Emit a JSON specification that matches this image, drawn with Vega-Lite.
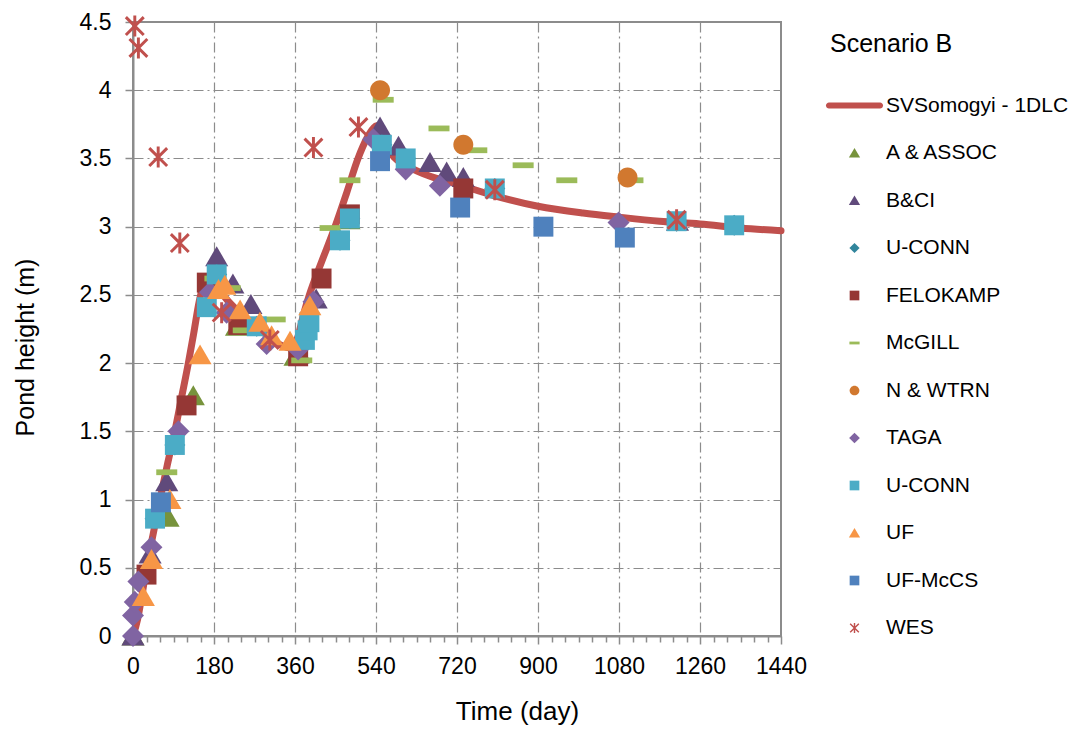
{
  "$schema": "https://vega.github.io/schema/vega-lite/v6.json",
  "width": 648,
  "height": 614,
  "autosize": "none",
  "padding": {"left": 133, "top": 22, "right": 292, "bottom": 95},
  "config": {
    "font": "Liberation Sans",
    "view": {"stroke": "#8c8c8c", "strokeWidth": 2}
  },
  "datasets": {
    "model": [
      {"series": "SVSomogyi - 1DLC", "day": 0, "h": 0},
      {"series": "SVSomogyi - 1DLC", "day": 10, "h": 0.12},
      {"series": "SVSomogyi - 1DLC", "day": 20, "h": 0.3},
      {"series": "SVSomogyi - 1DLC", "day": 30, "h": 0.5},
      {"series": "SVSomogyi - 1DLC", "day": 45, "h": 0.75},
      {"series": "SVSomogyi - 1DLC", "day": 60, "h": 1.0},
      {"series": "SVSomogyi - 1DLC", "day": 76, "h": 1.25},
      {"series": "SVSomogyi - 1DLC", "day": 93, "h": 1.5},
      {"series": "SVSomogyi - 1DLC", "day": 108, "h": 1.75},
      {"series": "SVSomogyi - 1DLC", "day": 123, "h": 2.0},
      {"series": "SVSomogyi - 1DLC", "day": 135, "h": 2.22},
      {"series": "SVSomogyi - 1DLC", "day": 147, "h": 2.45},
      {"series": "SVSomogyi - 1DLC", "day": 157, "h": 2.58},
      {"series": "SVSomogyi - 1DLC", "day": 166, "h": 2.62},
      {"series": "SVSomogyi - 1DLC", "day": 176, "h": 2.6},
      {"series": "SVSomogyi - 1DLC", "day": 190, "h": 2.54},
      {"series": "SVSomogyi - 1DLC", "day": 210, "h": 2.46},
      {"series": "SVSomogyi - 1DLC", "day": 240, "h": 2.36},
      {"series": "SVSomogyi - 1DLC", "day": 270, "h": 2.27},
      {"series": "SVSomogyi - 1DLC", "day": 300, "h": 2.2},
      {"series": "SVSomogyi - 1DLC", "day": 330, "h": 2.13},
      {"series": "SVSomogyi - 1DLC", "day": 350, "h": 2.11},
      {"series": "SVSomogyi - 1DLC", "day": 365, "h": 2.18},
      {"series": "SVSomogyi - 1DLC", "day": 380, "h": 2.37},
      {"series": "SVSomogyi - 1DLC", "day": 392, "h": 2.5},
      {"series": "SVSomogyi - 1DLC", "day": 420, "h": 2.75},
      {"series": "SVSomogyi - 1DLC", "day": 449, "h": 3.0},
      {"series": "SVSomogyi - 1DLC", "day": 475, "h": 3.25},
      {"series": "SVSomogyi - 1DLC", "day": 500, "h": 3.5},
      {"series": "SVSomogyi - 1DLC", "day": 520, "h": 3.65},
      {"series": "SVSomogyi - 1DLC", "day": 534, "h": 3.72},
      {"series": "SVSomogyi - 1DLC", "day": 541, "h": 3.74},
      {"series": "SVSomogyi - 1DLC", "day": 550, "h": 3.68},
      {"series": "SVSomogyi - 1DLC", "day": 565, "h": 3.58},
      {"series": "SVSomogyi - 1DLC", "day": 580, "h": 3.51},
      {"series": "SVSomogyi - 1DLC", "day": 600, "h": 3.46},
      {"series": "SVSomogyi - 1DLC", "day": 630, "h": 3.41},
      {"series": "SVSomogyi - 1DLC", "day": 660, "h": 3.37},
      {"series": "SVSomogyi - 1DLC", "day": 722, "h": 3.31},
      {"series": "SVSomogyi - 1DLC", "day": 800, "h": 3.23},
      {"series": "SVSomogyi - 1DLC", "day": 900, "h": 3.15},
      {"series": "SVSomogyi - 1DLC", "day": 1000, "h": 3.1},
      {"series": "SVSomogyi - 1DLC", "day": 1080, "h": 3.07},
      {"series": "SVSomogyi - 1DLC", "day": 1170, "h": 3.04},
      {"series": "SVSomogyi - 1DLC", "day": 1260, "h": 3.02},
      {"series": "SVSomogyi - 1DLC", "day": 1350, "h": 2.99},
      {"series": "SVSomogyi - 1DLC", "day": 1440, "h": 2.97}
    ],
    "obs": [
      {"series": "A & ASSOC", "day": 0, "h": 0},
      {"series": "A & ASSOC", "day": 78, "h": 0.87},
      {"series": "A & ASSOC", "day": 134, "h": 1.76},
      {"series": "A & ASSOC", "day": 230, "h": 2.27},
      {"series": "A & ASSOC", "day": 360, "h": 2.05},
      {"series": "A & ASSOC", "day": 480, "h": 3.05},
      {"series": "B&CI", "day": 0, "h": 0},
      {"series": "B&CI", "day": 38, "h": 0.6},
      {"series": "B&CI", "day": 75, "h": 1.13},
      {"series": "B&CI", "day": 186, "h": 2.78},
      {"series": "B&CI", "day": 222, "h": 2.58},
      {"series": "B&CI", "day": 262, "h": 2.43},
      {"series": "B&CI", "day": 371, "h": 2.07},
      {"series": "B&CI", "day": 407, "h": 2.47},
      {"series": "B&CI", "day": 549, "h": 3.73},
      {"series": "B&CI", "day": 590, "h": 3.59},
      {"series": "B&CI", "day": 660, "h": 3.47},
      {"series": "B&CI", "day": 697, "h": 3.4},
      {"series": "B&CI", "day": 734, "h": 3.36},
      {"series": "B&CI", "day": 1210, "h": 3.04},
      {"series": "U-CONN", "day": 49, "h": 0.86},
      {"series": "U-CONN", "day": 93, "h": 1.4},
      {"series": "U-CONN", "day": 186, "h": 2.65},
      {"series": "U-CONN", "day": 275, "h": 2.27},
      {"series": "U-CONN", "day": 390, "h": 2.29},
      {"series": "U-CONN", "day": 460, "h": 2.9},
      {"series": "U-CONN", "day": 482, "h": 3.06},
      {"series": "U-CONN", "day": 553, "h": 3.6},
      {"series": "U-CONN", "day": 606, "h": 3.5},
      {"series": "U-CONN", "day": 804, "h": 3.28},
      {"series": "U-CONN", "day": 1208, "h": 3.04},
      {"series": "U-CONN", "day": 1336, "h": 3.01},
      {"series": "FELOKAMP", "day": 30, "h": 0.45},
      {"series": "FELOKAMP", "day": 119, "h": 1.69},
      {"series": "FELOKAMP", "day": 164, "h": 2.59},
      {"series": "FELOKAMP", "day": 234, "h": 2.28},
      {"series": "FELOKAMP", "day": 367, "h": 2.05},
      {"series": "FELOKAMP", "day": 419, "h": 2.62},
      {"series": "FELOKAMP", "day": 482, "h": 3.09},
      {"series": "FELOKAMP", "day": 734, "h": 3.28},
      {"series": "McGILL", "day": 75, "h": 1.2},
      {"series": "McGILL", "day": 182, "h": 2.62},
      {"series": "McGILL", "day": 216, "h": 2.55},
      {"series": "McGILL", "day": 245, "h": 2.24},
      {"series": "McGILL", "day": 316, "h": 2.32},
      {"series": "McGILL", "day": 375, "h": 2.02},
      {"series": "McGILL", "day": 438, "h": 2.99},
      {"series": "McGILL", "day": 482, "h": 3.34},
      {"series": "McGILL", "day": 556, "h": 3.93},
      {"series": "McGILL", "day": 680, "h": 3.72},
      {"series": "McGILL", "day": 764, "h": 3.56},
      {"series": "McGILL", "day": 867, "h": 3.45},
      {"series": "McGILL", "day": 964, "h": 3.34},
      {"series": "McGILL", "day": 1111, "h": 3.34},
      {"series": "N & WTRN", "day": 549, "h": 4.0},
      {"series": "N & WTRN", "day": 734, "h": 3.6},
      {"series": "N & WTRN", "day": 1099, "h": 3.36},
      {"series": "TAGA", "day": 0, "h": 0},
      {"series": "TAGA", "day": 0, "h": 0.15},
      {"series": "TAGA", "day": 4, "h": 0.25},
      {"series": "TAGA", "day": 12, "h": 0.4},
      {"series": "TAGA", "day": 41, "h": 0.65},
      {"series": "TAGA", "day": 101, "h": 1.5},
      {"series": "TAGA", "day": 171, "h": 2.52},
      {"series": "TAGA", "day": 208, "h": 2.37},
      {"series": "TAGA", "day": 297, "h": 2.14},
      {"series": "TAGA", "day": 367, "h": 2.1},
      {"series": "TAGA", "day": 401, "h": 2.45},
      {"series": "TAGA", "day": 534, "h": 3.64},
      {"series": "TAGA", "day": 606, "h": 3.42},
      {"series": "TAGA", "day": 682, "h": 3.3},
      {"series": "TAGA", "day": 1079, "h": 3.03},
      {"series": "U-CONN ", "day": 49, "h": 0.86},
      {"series": "U-CONN ", "day": 93, "h": 1.4},
      {"series": "U-CONN ", "day": 164, "h": 2.41},
      {"series": "U-CONN ", "day": 186, "h": 2.65},
      {"series": "U-CONN ", "day": 275, "h": 2.27},
      {"series": "U-CONN ", "day": 382, "h": 2.17},
      {"series": "U-CONN ", "day": 388, "h": 2.24},
      {"series": "U-CONN ", "day": 392, "h": 2.3},
      {"series": "U-CONN ", "day": 460, "h": 2.9},
      {"series": "U-CONN ", "day": 482, "h": 3.06},
      {"series": "U-CONN ", "day": 553, "h": 3.6},
      {"series": "U-CONN ", "day": 606, "h": 3.5},
      {"series": "U-CONN ", "day": 804, "h": 3.28},
      {"series": "U-CONN ", "day": 1208, "h": 3.04},
      {"series": "U-CONN ", "day": 1336, "h": 3.01},
      {"series": "UF", "day": 23, "h": 0.29},
      {"series": "UF", "day": 41, "h": 0.56},
      {"series": "UF", "day": 82, "h": 1.0},
      {"series": "UF", "day": 149, "h": 2.06},
      {"series": "UF", "day": 190, "h": 2.54},
      {"series": "UF", "day": 204, "h": 2.57},
      {"series": "UF", "day": 238, "h": 2.39},
      {"series": "UF", "day": 282, "h": 2.3},
      {"series": "UF", "day": 308, "h": 2.2},
      {"series": "UF", "day": 349, "h": 2.16},
      {"series": "UF", "day": 393, "h": 2.42},
      {"series": "UF-McCS", "day": 62, "h": 0.98},
      {"series": "UF-McCS", "day": 549, "h": 3.48},
      {"series": "UF-McCS", "day": 727, "h": 3.14},
      {"series": "UF-McCS", "day": 912, "h": 3.0},
      {"series": "UF-McCS", "day": 1093, "h": 2.92},
      {"series": "WES", "day": 4, "h": 4.47},
      {"series": "WES", "day": 12, "h": 4.31},
      {"series": "WES", "day": 56, "h": 3.51},
      {"series": "WES", "day": 104, "h": 2.88},
      {"series": "WES", "day": 197, "h": 2.37},
      {"series": "WES", "day": 304, "h": 2.17},
      {"series": "WES", "day": 401, "h": 3.58},
      {"series": "WES", "day": 501, "h": 3.73},
      {"series": "WES", "day": 804, "h": 3.27},
      {"series": "WES", "day": 1208, "h": 3.05}
    ]
  },
  "encoding": {
    "x": {
      "field": "day",
      "type": "quantitative",
      "scale": {"domain": [0, 1440], "nice": false, "zero": false},
      "axis": {
        "title": "Time (day)",
        "values": [0,30,60,90,120,150,180,210,240,270,300,330,360,390,420,450,480,510,540,570,600,630,660,690,720,750,780,810,840,870,900,930,960,990,1020,1050,1080,1110,1140,1170,1200,1230,1260,1290,1320,1350,1380,1410,1440],
        "format": "d",
        "labelExpr": "datum.value % 180 === 0 ? datum.label : ''",
        "labelOverlap": false,
        "labelFlush": false,
        "labelFontSize": 23,
        "labelColor": "#000",
        "labelPadding": 11,
        "tickSize": {"condition": {"test": "datum.value % 180 === 0", "value": 8}, "value": 6},
        "tickColor": "#8c8c8c",
        "tickWidth": 1.5,
        "domainColor": "#8c8c8c",
        "domainWidth": 2,
        "grid": true,
        "gridColor": "#8c8c8c",
        "gridWidth": 1.2,
        "gridDash": [10, 4, 2, 4],
        "gridOpacity": {"condition": {"test": "datum.value % 180 === 0 && datum.value > 0 && datum.value < 1440", "value": 1}, "value": 0},
        "titleFontSize": 26,
        "titleFontWeight": "normal",
        "titleColor": "#000",
        "titleX": 384,
        "titleY": 83,
        "titleBaseline": "alphabetic"
      }
    },
    "y": {
      "field": "h",
      "type": "quantitative",
      "scale": {"domain": [0, 4.5], "nice": false},
      "axis": {
        "title": "Pond height (m)",
        "values": [0, 0.5, 1, 1.5, 2, 2.5, 3, 3.5, 4, 4.5],
        "format": "~g",
        "labelFlush": false,
        "labelFontSize": 23,
        "labelColor": "#000",
        "labelPadding": 14,
        "tickSize": 8,
        "tickColor": "#8c8c8c",
        "tickWidth": 1.5,
        "domainColor": "#8c8c8c",
        "domainWidth": 2,
        "grid": true,
        "gridColor": "#8c8c8c",
        "gridWidth": 1.2,
        "gridDash": [10, 4, 2, 4],
        "titleFontSize": 25,
        "titleFontWeight": "normal",
        "titleColor": "#000",
        "titleAngle": 270,
        "titleX": -100,
        "titleY": 325,
        "titleBaseline": "alphabetic"
      }
    }
  },
  "layer": [
    {
      "data": {"name": "model"},
      "mark": {"type": "line", "strokeWidth": 7, "interpolate": "monotone", "strokeCap": "round", "color": "#C0504D"},
      "encoding": {}
    },
    {
      "data": {"name": "obs"},
      "mark": {"type": "point", "filled": true, "opacity": 1, "size": 11025, "strokeWidth": 0},
      "encoding": {
        "color": {
          "field": "series",
          "type": "nominal",
          "scale": {
            "domain": ["SVSomogyi - 1DLC","A & ASSOC","B&CI","U-CONN","FELOKAMP","McGILL","N & WTRN","TAGA","U-CONN ","UF","UF-McCS","WES"],
            "range": ["#C0504D","#77933C","#604A7B","#31859C","#953735","#9BBB59","#D1782F","#8064A2","#4BACC6","#F79646","#4F81BD","#C0504D"]
          },
          "legend": {
            "title": "Scenario B",
            "orient": "none",
            "legendX": 697,
            "legendY": 10,
            "padding": 0,
            "symbolSize": 2601,
            "symbolStrokeWidth": 6,
            "symbolOffset": -4,
            "labelOffset": 3,
            "labelFontSize": 21,
            "labelColor": "#000",
            "labelLimit": 300,
            "titleFontSize": 25,
            "titleFontWeight": "normal",
            "titleColor": "#000",
            "titlePadding": 20,
            "rowPadding": 8.5
          }
        },
        "shape": {
          "field": "series",
          "type": "nominal",
          "scale": {
            "domain": ["SVSomogyi - 1DLC","A & ASSOC","B&CI","U-CONN","FELOKAMP","McGILL","N & WTRN","TAGA","U-CONN ","UF","UF-McCS","WES"],
            "range": [
              "M-1,-0.118L1,-0.118A0.118,0.118,0,0,1,1,0.118L-1,0.118A0.118,0.118,0,0,1,-1,-0.118Z",
              "M0,-0.2L0.22,0.18L-0.22,0.18Z",
              "M0,-0.2L0.22,0.18L-0.22,0.18Z",
              "M0,-0.2L0.2,0L0,0.2L-0.2,0Z",
              "M-0.19,-0.19L0.19,-0.19L0.19,0.19L-0.19,0.19Z",
              "M-0.2,-0.055L0.2,-0.055L0.2,0.055L-0.2,0.055Z",
              "M0.19,0A0.19,0.19,0,1,1,-0.19,0A0.19,0.19,0,1,1,0.19,0Z",
              "M0,-0.21L0.21,0L0,0.21L-0.21,0Z",
              "M-0.19,-0.19L0.19,-0.19L0.19,0.19L-0.19,0.19Z",
              "M0,-0.2L0.22,0.18L-0.22,0.18Z",
              "M-0.19,-0.19L0.19,-0.19L0.19,0.19L-0.19,0.19Z",
              "M-0.028,-0.2L0.028,-0.2L0.028,0.2L-0.028,0.2ZM-0.19,-0.15L-0.15,-0.19L0.19,0.15L0.15,0.19ZM0.15,-0.19L0.19,-0.15L-0.15,0.19L-0.19,0.15Z"
            ]
          },
          "legend": {
            "title": "Scenario B",
            "orient": "none",
            "legendX": 697,
            "legendY": 10,
            "padding": 0,
            "symbolSize": 2601,
            "symbolStrokeWidth": 6,
            "symbolOffset": -4,
            "labelOffset": 3,
            "labelFontSize": 21,
            "labelColor": "#000",
            "labelLimit": 300,
            "titleFontSize": 25,
            "titleFontWeight": "normal",
            "titleColor": "#000",
            "titlePadding": 20,
            "rowPadding": 8.5
          }
        }
      }
    }
  ]
}
